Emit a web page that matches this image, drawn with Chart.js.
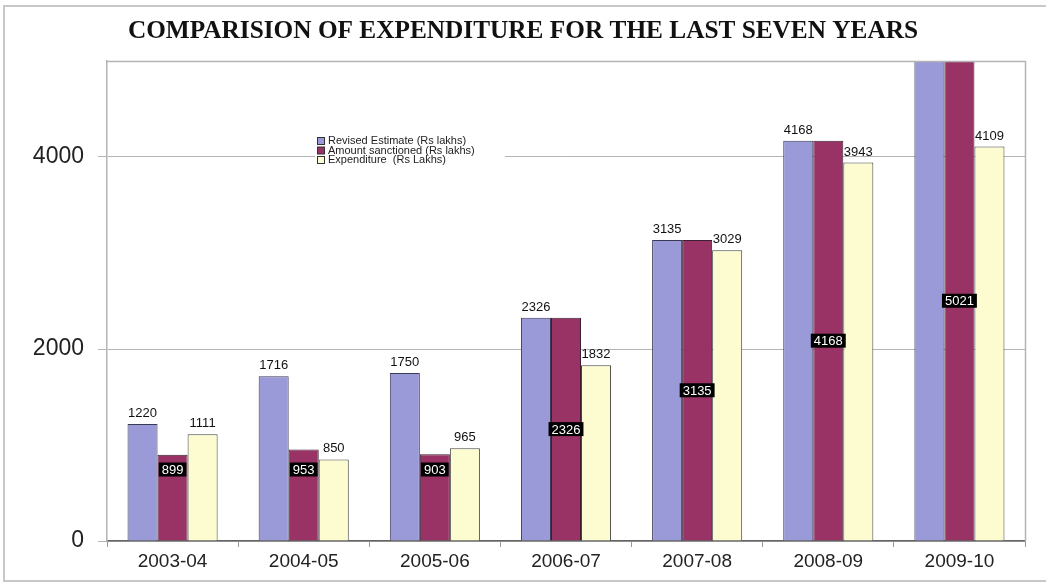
<!DOCTYPE html>
<html>
<head>
<meta charset="utf-8">
<script src="https://cdn.jsdelivr.net/npm/chart.js@4.4.1/dist/chart.umd.min.js"></script>
<style>
  html, body { margin: 0; padding: 0; background: #fff; }
  #wrap { width: 1046px; height: 584px; position: relative; }
</style>
</head>
<body>
<div id="wrap"><canvas id="c" width="1046" height="584"></canvas></div>
<script>
const categories = ['2003-04', '2004-05', '2005-06', '2006-07', '2007-08', '2008-09', '2009-10'];
const revisedEstimate = [1220, 1716, 1750, 2326, 3135, 4168, 5021];
const amountSanctioned = [899, 953, 903, 2326, 3135, 4168, 5021];
const expenditure = [1111, 850, 965, 1832, 3029, 3943, 4109];
const seriesNames = ['Revised Estimate (Rs lakhs)', 'Amount sanctioned (Rs lakhs)', 'Expenditure  (Rs Lakhs)'];
const yTickValues = [0, 2000, 4000];
const yMax = 5000;
const chartTitle = 'COMPARISION OF EXPENDITURE FOR THE LAST SEVEN YEARS';

const frame = {
  id: 'frame',
  beforeDraw(chart) {
    const ctx = chart.ctx;
    ctx.save();
    ctx.fillStyle = '#fff';
    ctx.fillRect(0, 0, chart.width, chart.height);
    ctx.strokeStyle = '#c8c8c8';
    ctx.lineWidth = 2;
    ctx.strokeRect(4, 6, chart.width + 10, chart.height - 9);
    ctx.restore();
  },
  afterDraw(chart) {
    const a = chart.chartArea, ctx = chart.ctx;
    ctx.save();
    ctx.strokeStyle = '#b4b4b4';
    ctx.lineWidth = 1.5;
    ctx.beginPath();
    ctx.moveTo(a.left, a.top + 0.5);
    ctx.lineTo(a.right + 0.5, a.top + 0.5);
    ctx.lineTo(a.right + 0.5, a.bottom);
    ctx.stroke();
    // title
    ctx.fillStyle = '#111';
    ctx.font = 'bold 25.3px "Liberation Serif", "Times New Roman", serif';
    ctx.textAlign = 'center';
    ctx.textBaseline = 'middle';
    ctx.fillText(chartTitle, 523, 31);
    ctx.restore();
  }
};

const valueLabels = {
  id: 'valueLabels',
  afterDatasetsDraw(chart) {
    const ctx = chart.ctx, a = chart.chartArea;
    ctx.save();
    ctx.font = '13px "Liberation Sans", Arial, sans-serif';
    ctx.textAlign = 'center';
    chart.data.datasets.forEach((ds, di) => {
      const meta = chart.getDatasetMeta(di);
      meta.data.forEach((bar, i) => {
        const v = ds.data[i];
        const txt = String(v);
        if (di === 1) {
          const top = Math.max(bar.y, a.top);
          let cy = (top + bar.base) / 2;
          cy = Math.min(cy, bar.base - 71);
          const w = ctx.measureText(txt).width + 6;
          ctx.fillStyle = '#000';
          ctx.fillRect(bar.x - w / 2, cy - 7, w, 14);
          ctx.fillStyle = '#fff';
          ctx.textBaseline = 'middle';
          ctx.fillText(txt, bar.x, cy + 1);
        } else {
          if (bar.y < a.top) return;
          ctx.fillStyle = '#111';
          ctx.textBaseline = 'bottom';
          ctx.fillText(txt, bar.x, bar.y - 4);
        }
      });
    });
    ctx.restore();
  }
};

const innerLegend = {
  id: 'innerLegend',
  afterDatasetsDraw(chart) {
    const ctx = chart.ctx;
    const x0 = 317, y0 = 141, dy = 9.5;
    ctx.save();
    ctx.font = '11px "Liberation Sans", Arial, sans-serif';
    ctx.textBaseline = 'middle';
    ctx.textAlign = 'left';
    ctx.fillStyle = '#fff';
    ctx.fillRect(x0 - 2, y0 - 6, 190, dy * 3 + 3);
    chart.data.datasets.forEach((ds, i) => {
      const y = y0 + i * dy;
      ctx.fillStyle = ds.backgroundColor;
      ctx.fillRect(x0, y - 3.5, 7, 7);
      ctx.strokeStyle = '#333';
      ctx.lineWidth = 1;
      ctx.strokeRect(x0 + 0.5, y - 3.5, 7, 7);
      ctx.fillStyle = '#222';
      ctx.fillText(ds.label, x0 + 11, y);
    });
    ctx.restore();
  }
};

const ctx = document.getElementById('c').getContext('2d');
new Chart(ctx, {
  type: 'bar',
  data: {
    labels: categories,
    datasets: [
      { label: seriesNames[0], data: revisedEstimate, backgroundColor: '#9a9ad8', borderColor: '#3a3a55', borderWidth: 1 },
      { label: seriesNames[1], data: amountSanctioned, backgroundColor: '#993366', borderColor: '#3a2030', borderWidth: 1 },
      { label: seriesNames[2], data: expenditure, backgroundColor: '#fdfbd0', borderColor: '#444', borderWidth: 1 }
    ]
  },
  options: {
    responsive: false,
    animation: false,
    devicePixelRatio: 1,
    layout: { padding: { left: 0, right: 21, top: 61, bottom: 0 } },
    datasets: { bar: { categoryPercentage: 0.687, barPercentage: 1.0 } },
    plugins: {
      legend: { display: false },
      tooltip: { enabled: false },
      title: { display: false }
    },
    scales: {
      x: {
        afterFit(s) { s.height = 43; },
        grid: { display: true, drawOnChartArea: false, drawTicks: true, tickLength: 6, color: '#999' },
        border: { display: true, color: '#666', width: 1.5 },
        ticks: { color: '#222', padding: 3, font: { family: '"Liberation Sans", Arial, sans-serif', size: 19 }, maxRotation: 0 }
      },
      y: {
        min: 0,
        max: yMax,
        afterFit(s) { s.width = 107; },
        afterBuildTicks(s) { s.ticks = yTickValues.map(v => ({ value: v })); },
        grid: { color: '#b4b4b4', lineWidth: 1, tickLength: 9, drawTicks: true },
        border: { display: true, color: '#b4b4b4', width: 1.5 },
        ticks: { color: '#222', padding: 14, font: { family: '"Liberation Sans", Arial, sans-serif', size: 23 }, callback: v => String(v) }
      }
    }
  },
  plugins: [frame, valueLabels, innerLegend]
});
</script>
</body>
</html>
